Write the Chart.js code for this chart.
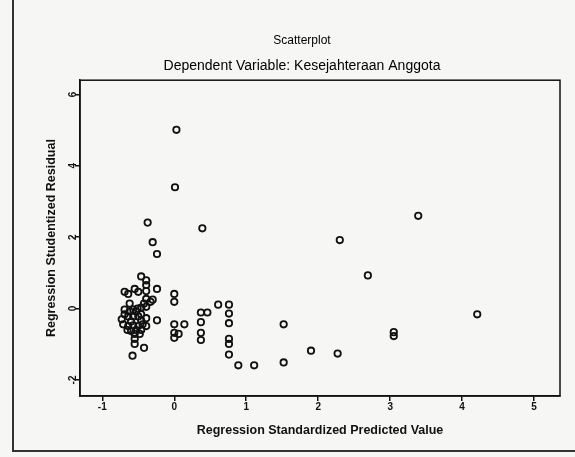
<!DOCTYPE html>
<html>
<head>
<meta charset="utf-8">
<script src="https://cdn.jsdelivr.net/npm/chart.js@4/dist/chart.umd.min.js"></script>
<style>
  html, body { margin: 0; padding: 0; background: #f6f6f4; }
  #wrap { position: relative; width: 575px; height: 457px; }
  #frame { position: absolute; left: 12px; top: 0; width: 575px; height: 452px;
           border-left: 2px solid #333; border-bottom: 2px solid #333; box-sizing: border-box; }
  canvas { position: absolute; left: 0; top: 0; }
</style>
</head>
<body>
<div id="wrap">
  <div id="frame"></div>
  <canvas id="chart" width="575" height="457"></canvas>
</div>
<script>
// Regression Standardized Predicted Value (x) / Studentized Residual (y)
const predicted = [
  -0.46, -0.39, -0.39, -0.69, -0.64, -0.55, -0.50, -0.39, -0.24, -0.30,
  -0.33, -0.39, -0.42, -0.46, -0.62, -0.69, -0.57, -0.53, -0.69, -0.64,
  -0.57, -0.50, -0.46, -0.39, -0.24, -0.71, -0.64, -0.57, -0.50, -0.44,
  -0.39, -0.65, -0.60, -0.53, -0.46, -0.55, -0.48, -0.55, -0.55, -0.42,
  -0.58, -0.51, -0.60, -0.46, -0.39, -0.73, -0.62,
  -0.37, -0.30, -0.24,
  0.00, 0.00, 0.00, 0.00, 0.00, 0.06, 0.14, 0.03, 0.01,
  0.39, 0.37, 0.46, 0.37, 0.37, 0.37,
  0.61, 0.76, 0.76, 0.76, 0.76, 0.76, 0.76,
  0.89, 1.11, 1.52, 1.52, 1.90, 2.27, 2.30, 2.69, 3.05, 3.05, 3.39, 4.21
];
const residual = [
  0.90, 0.79, 0.66, 0.47, 0.41, 0.55, 0.47, 0.49, 0.55, 0.25,
  0.19, 0.27, 0.14, 0.03, 0.14, -0.03, -0.03, -0.08, -0.16, -0.22,
  -0.22, -0.22, -0.16, -0.27, -0.33, -0.44, -0.49, -0.47, -0.49, -0.44,
  -0.49, -0.60, -0.63, -0.60, -0.60, -0.71, -0.71, -0.85, -0.99, -1.10,
  -1.32, 0.00, -0.36, -0.33, 0.05, -0.30, -0.08,
  2.41, 1.86, 1.53,
  0.41, 0.19, -0.44, -0.68, -0.82, -0.71, -0.44, 5.01, 3.40,
  2.25, -0.11, -0.11, -0.38, -0.68, -0.88,
  0.11, 0.11, -0.14, -0.41, -0.85, -0.99, -1.29,
  -1.59, -1.59, -0.44, -1.51, -1.18, -1.26, 1.92, 0.93, -0.66, -0.77, 2.60, -0.16
];
const xTicks = [-1, 0, 1, 2, 3, 4, 5];
const yTicks = [-2, 0, 2, 4, 6];

const points = predicted.map((x, i) => ({ x: x, y: residual[i] }));

// box round the plot area
const plotBox = {
  id: 'plotBox',
  afterDraw(chart) {
    const a = chart.chartArea, c = chart.ctx;
    c.save();
    c.strokeStyle = '#111';
    c.lineWidth = 1.5;
    c.strokeRect(a.left, a.top, a.right - a.left, a.bottom - a.top);
    c.restore();
  }
};

const axisFont = { family: 'Liberation Sans, Arial, sans-serif', weight: 'bold' };

new Chart(document.getElementById('chart'), {
  type: 'scatter',
  data: {
    datasets: [{
      data: points,
      pointStyle: 'circle',
      pointRadius: 3.2,
      pointBorderWidth: 1.8,
      pointBorderColor: '#111',
      pointBackgroundColor: 'rgba(0,0,0,0)',
      pointHoverRadius: 3.2
    }]
  },
  options: {
    responsive: false,
    animation: false,
    layout: { padding: { left: 44, right: 15, top: 33, bottom: 0 } },
    plugins: {
      legend: { display: false },
      tooltip: { enabled: false },
      title: {
        display: true,
        text: 'Scatterplot',
        color: '#000',
        font: { family: 'Liberation Sans, Arial, sans-serif', size: 12, weight: 'normal' },
        padding: { top: 0, bottom: 10 }
      },
      subtitle: {
        display: true,
        text: 'Dependent Variable: Kesejahteraan Anggota',
        color: '#000',
        font: { family: 'Liberation Sans, Arial, sans-serif', size: 14, weight: 'normal' },
        padding: { top: 0, bottom: 6 }
      }
    },
    scales: {
      x: {
        type: 'linear',
        min: -1.31,
        max: 5.36,
        afterBuildTicks: s => { s.ticks = xTicks.map(v => ({ value: v })); },
        afterFit: s => { s.height = 61; },
        border: { display: true, color: '#111', width: 1.5 },
        grid: { display: true, drawOnChartArea: false, drawTicks: true, tickLength: 5, color: '#111', lineWidth: 1.5 },
        ticks: { color: '#111', padding: 0, font: { ...axisFont, size: 10 } },
        title: {
          display: true,
          text: 'Regression Standardized Predicted Value',
          color: '#111',
          font: { ...axisFont, size: 12.5 },
          padding: { top: 0, bottom: 19 }
        }
      },
      y: {
        type: 'linear',
        min: -2.45,
        max: 6.4,
        afterBuildTicks: s => { s.ticks = yTicks.map(v => ({ value: v })); },
        afterFit: s => { s.width = 36; },
        border: { display: true, color: '#111', width: 1.5 },
        grid: { display: true, drawOnChartArea: false, drawTicks: true, tickLength: 5, color: '#111', lineWidth: 1.5 },
        ticks: { color: '#111', padding: -3, minRotation: 90, maxRotation: 90, crossAlign: 'center', font: { ...axisFont, size: 10 } },
        title: {
          display: true,
          text: 'Regression Studentized Residual',
          color: '#111',
          font: { ...axisFont, size: 12.5 },
          padding: { top: 0, bottom: 0 }
        }
      }
    }
  },
  plugins: [plotBox]
});
</script>
</body>
</html>
